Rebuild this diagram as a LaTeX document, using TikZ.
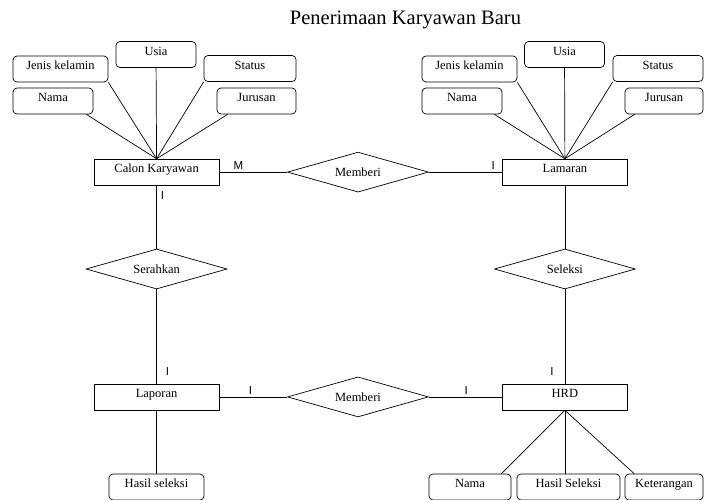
\documentclass[tikz,border=0pt]{standalone}
\usepackage{fontspec}
\setmainfont{Liberation Serif}
\newfontfamily\kardfont{Liberation Sans}
\usepackage{tikz}
\usetikzlibrary{matrix,positioning,shapes}

\begin{document}
\begin{tikzpicture}[x=1pt, y=-1pt, line width=0.7pt,
  every node/.style={font=\fontsize{12.5}{14}\selectfont},
  entitas/.style={draw, rectangle, minimum width=125pt, minimum height=26pt,
    inner ysep=5pt, text height=8pt, text depth=7pt},
  relasi/.style={draw, diamond, aspect=3.5, minimum width=141pt, minimum height=40pt, inner sep=0pt},
  atribut/.style={draw, rectangle, rounded corners=4pt, minimum height=26pt,
    inner ysep=5pt, text height=8pt, text depth=7pt},
  kard/.style={font=\kardfont\fontsize{11.5}{13}\selectfont, inner sep=2pt}]
  \useasboundingbox (0,0) rectangle (704,499);

  \node (judul) at (405.5,20) {\fontsize{20.5}{24}\selectfont Penerimaan Karyawan Baru};

  \matrix (m) [matrix of nodes, row sep=56.5pt, column sep=60pt, nodes={anchor=center}] at (360.75,284.5)
  {
 |[entitas]| Calon Karyawan & |[relasi]| Memberi &[5.5pt] |[entitas]| Lamaran \\
 |[relasi]| Serahkan & & |[relasi]| Seleksi \\[31pt]
 |[entitas]| Laporan & |[relasi]| Memberi & |[entitas]| HRD \\
};

  \node[atribut, minimum width=95pt] (jkL) at (60.5,69) {Jenis kelamin};
  \node[atribut, minimum width=80pt] (usiaL) at (156,54.5) {Usia};
  \node[atribut, minimum width=92pt] (statusL) at (250,68.5) {Status};
  \node[atribut, minimum width=80pt] (namaL) at (53,101) {Nama};
  \node[atribut, minimum width=79pt] (jurusanL) at (256.5,101) {Jurusan};

  \node[atribut, minimum width=95pt] (jkR) at (469.5,69) {Jenis kelamin};
  \node[atribut, minimum width=80pt] (usiaR) at (564.5,54.5) {Usia};
  \node[atribut, minimum width=90pt] (statusR) at (658,68.5) {Status};
  \node[atribut, minimum width=80pt] (namaR) at (462,101) {Nama};
  \node[atribut, minimum width=78pt] (jurusanR) at (664,101) {Jurusan};

  \node[atribut, minimum width=95pt] (hasilL) at (156.5,487) {Hasil seleksi};
  \node[atribut, minimum width=82pt] (namaB) at (470,487) {Nama};
  \node[atribut, minimum width=103pt] (hasilB) at (568.5,487) {Hasil Seleksi};
  \node[atribut, minimum width=78pt] (ketB) at (664,487) {Keterangan};

  \path
  (m-1-1) edge node [kard, above, pos=.28] {M} (m-1-2)
          edge node [kard, right=2pt, pos=.16] {I} (m-2-1)
  (m-1-2) edge node [kard, above, pos=.88] {I} (m-1-3)
  (m-1-3) edge (m-2-3)
  (m-2-1) edge node [kard, right=7pt, pos=.87] {I} (m-3-1)
  (m-2-3) edge node [kard, left=9pt, pos=.87] {I} (m-3-3)
  (m-3-1) edge node [kard, above, pos=.46] {I} (m-3-2)
          edge (hasilL)
  (m-3-2) edge node [kard, above, pos=.51] {I} (m-3-3);

  \path
  (m-1-1.north) edge (jkL.south east)
          edge (usiaL)
          edge (statusL.south west)
          edge ([xshift=-7pt]namaL.south east)
          edge ([xshift=11pt]jurusanL.south west)
  (m-1-3.north) edge (jkR.south east)
          edge (usiaR)
          edge (statusR.south west)
          edge ([xshift=-8pt]namaR.south east)
          edge ([xshift=10pt]jurusanR.south west)
  (m-3-3.south) edge ([xshift=-10pt]namaB.north east)
          edge (hasilB.north -| m-3-3.south)
          edge ([xshift=9.5pt]ketB.north west);
\end{tikzpicture}
\end{document}
